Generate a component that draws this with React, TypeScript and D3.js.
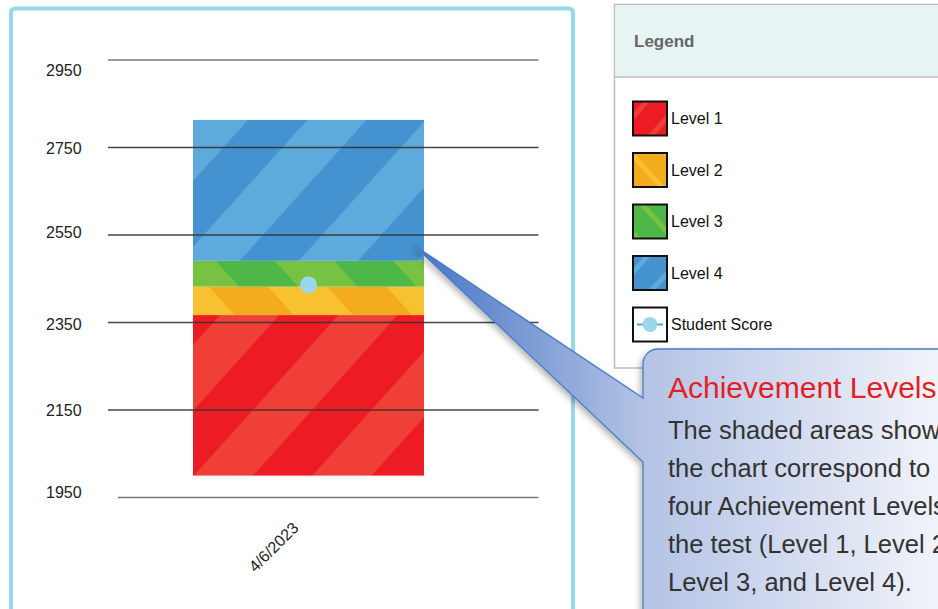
import React from "react";
import * as d3 from "d3";

// ---------- data ----------
const categories = ["4/6/2023"];
const levelNames = ["Level 1", "Level 2", "Level 3", "Level 4"];
const levelBounds = [2000, 2367, 2432, 2491, 2813];
const studentScores = [2436];
const yTicks = [1950, 2150, 2350, 2550, 2750, 2950];
const legendLabels = ["Level 1", "Level 2", "Level 3", "Level 4", "Student Score"];
const calloutTitle = "Achievement Levels";
const calloutLines = [
  "The shaded areas show",
  "the chart correspond to",
  "four Achievement Levels",
  "the test (Level 1, Level 2,",
  "Level 3, and Level 4).",
];

// ---------- styles / layout ----------
const W = 938;
const H = 609;
const FONT = "'Liberation Sans', Arial, Helvetica, sans-serif";
const STRIPE = 88;
const levelStyles = [
  { dark: "#ed1c24", light: "#ef3f37", angle: 42, shift: 30 },
  { dark: "#f3ad1c", light: "#f8c132", angle: -42, shift: 10 },
  { dark: "#4db848", light: "#77c143", angle: -42, shift: 40 },
  { dark: "#4493d0", light: "#5eaadc", angle: 42, shift: 60 },
];
const tickLabelNudge: Record<number, number> = { 2950: 10, 2750: 1, 2550: -3, 2350: 2, 2150: 0, 1950: -5 };

export default function App() {
  const y = d3.scaleLinear().domain([1950, 2950]).range([497.5, 60]);
  const x = d3.scaleBand().domain(categories).range([193, 424]).padding(0);
  const bw = x.bandwidth();
  const legendY = d3.scalePoint().domain(legendLabels).range([118.5, 324.5]);

  const bands = levelNames.map((name, i) => ({
    name,
    lo: levelBounds[i],
    hi: levelBounds[i + 1],
    i,
  }));

  const calloutPath = (() => {
    const p = d3.path();
    const tipX = x(categories[0])! + bw - 11;
    const tipY = y(2528);
    p.moveTo(tipX, tipY);
    p.lineTo(643, 398);
    p.lineTo(643, 364);
    p.arcTo(643, 349, 658, 349, 15);
    p.lineTo(960, 349);
    p.lineTo(960, 640);
    p.lineTo(643, 640);
    p.lineTo(643, 462);
    p.closePath();
    return p.toString();
  })();

  return (
    <div style={{ position: "absolute", left: 0, top: 0, width: W, height: H, overflow: "hidden", background: "#fff" }}>
      <svg width={W} height={H} style={{ display: "block", fontFamily: FONT }}>
        <defs>
          {levelStyles.map((s, i) => (
            <pattern
              key={"p" + i}
              id={"stripe" + i}
              patternUnits="userSpaceOnUse"
              width={STRIPE}
              height={STRIPE}
              patternTransform={`translate(${s.shift},0) rotate(${s.angle})`}
            >
              <rect width={STRIPE} height={STRIPE} fill={s.dark} />
              <rect x={0} width={STRIPE / 2} height={STRIPE} fill={s.light} />
            </pattern>
          ))}
          {levelStyles.map((s, i) => (
            <pattern
              key={"ps" + i}
              id={"swatch" + i}
              patternUnits="userSpaceOnUse"
              width={26}
              height={26}
              patternTransform={`rotate(${s.angle})`}
            >
              <rect width={26} height={26} fill={s.dark} />
              <rect x={0} width={5} height={26} fill={s.light} />
            </pattern>
          ))}
          <linearGradient id="calloutGrad" gradientUnits="userSpaceOnUse" x1={412} y1={0} x2={938} y2={0}>
            <stop offset="0" stopColor="#4474c4" />
            <stop offset="0.44" stopColor="#b4c3e5" />
            <stop offset="1" stopColor="#f1f3fa" />
          </linearGradient>
          <filter id="shadow" x="-20%" y="-20%" width="140%" height="140%">
            <feDropShadow dx="-2" dy="3" stdDeviation="3" floodColor="#000" floodOpacity="0.3" />
          </filter>
        </defs>

        {/* chart frame */}
        <rect x={11} y={8.5} width={562} height={700} rx={4} fill="#fff" stroke="#97d9eb" strokeWidth={4} />

        {/* level bands */}
        {categories.map((c) =>
          bands.map((b) => (
            <rect
              key={c + b.name}
              x={x(c)}
              y={y(b.hi)}
              width={bw}
              height={y(b.lo) - y(b.hi)}
              fill={`url(#stripe${b.i})`}
            />
          ))
        )}

        {/* gridlines */}
        {yTicks.map((t) => (
          <line
            key={"g" + t}
            x1={t === 1950 ? 118 : 108}
            x2={538.5}
            y1={y(t)}
            y2={y(t)}
            stroke={t === 1950 || t === 2950 ? "#6a6a6a" : "#333"}
            strokeOpacity={0.9}
            strokeWidth={1.4}
          />
        ))}

        {/* y labels */}
        {yTicks.map((t) => (
          <text key={"l" + t} x={46} y={y(t) + (tickLabelNudge[t] || 0)} dy="0.35em" fontSize={16} fill="#222">
            {t}
          </text>
        ))}

        {/* date label */}
        {categories.map((c) => (
          <text
            key={"d" + c}
            transform={`translate(${x(c)! + bw / 2 - 13},${525}) rotate(-45)`}
            textAnchor="end"
            dy="0.35em"
            fontSize={16}
            fill="#222"
          >
            {c}
          </text>
        ))}

        {/* student score */}
        {categories.map((c, i) => (
          <circle key={"s" + c} cx={x(c)! + bw / 2} cy={y(studentScores[i])} r={8.5} fill="#99d8ec" />
        ))}

        {/* legend */}
        <rect x={614.5} y={4.5} width={400} height={363.5} fill="#fff" stroke="#bdbdbd" strokeWidth={1.5} />
        <rect x={615.25} y={5.25} width={400} height={71.5} fill="#e6f4f4" />
        <line x1={614.5} x2={938} y1={77} y2={77} stroke="#bdbdbd" strokeWidth={1.5} />
        <text x={634} y={41} dy="0.35em" fontSize={17} fontWeight="bold" fill="#666">
          Legend
        </text>
        {legendLabels.map((lab, i) => {
          const cy = legendY(lab)!;
          return (
            <g key={"lg" + lab}>
              <rect
                x={633}
                y={cy - 17}
                width={34}
                height={34}
                fill={i < 4 ? `url(#swatch${i})` : "#fff"}
                stroke="#111"
                strokeWidth={2}
              />
              {i === 4 && (
                <>
                  <line x1={637} x2={663} y1={cy} y2={cy} stroke="#4aaebb" strokeWidth={2} />
                  <circle cx={650} cy={cy} r={7.5} fill="#99d8ec" />
                </>
              )}
              <text x={671} y={cy} dy="0.35em" fontSize={16} fill="#111">
                {lab}
              </text>
            </g>
          );
        })}

        {/* callout */}
        <path d={calloutPath} fill="url(#calloutGrad)" stroke="#4a7cc5" strokeWidth={1.3} filter="url(#shadow)" />
        <text x={668} y={398} fontSize={30} fill="#e31e24">
          {calloutTitle}
        </text>
        {calloutLines.map((ln, i) => (
          <text key={"c" + i} x={668} y={439 + i * 38} fontSize={25.5} fill="#333">
            {ln}
          </text>
        ))}
      </svg>
    </div>
  );
}
